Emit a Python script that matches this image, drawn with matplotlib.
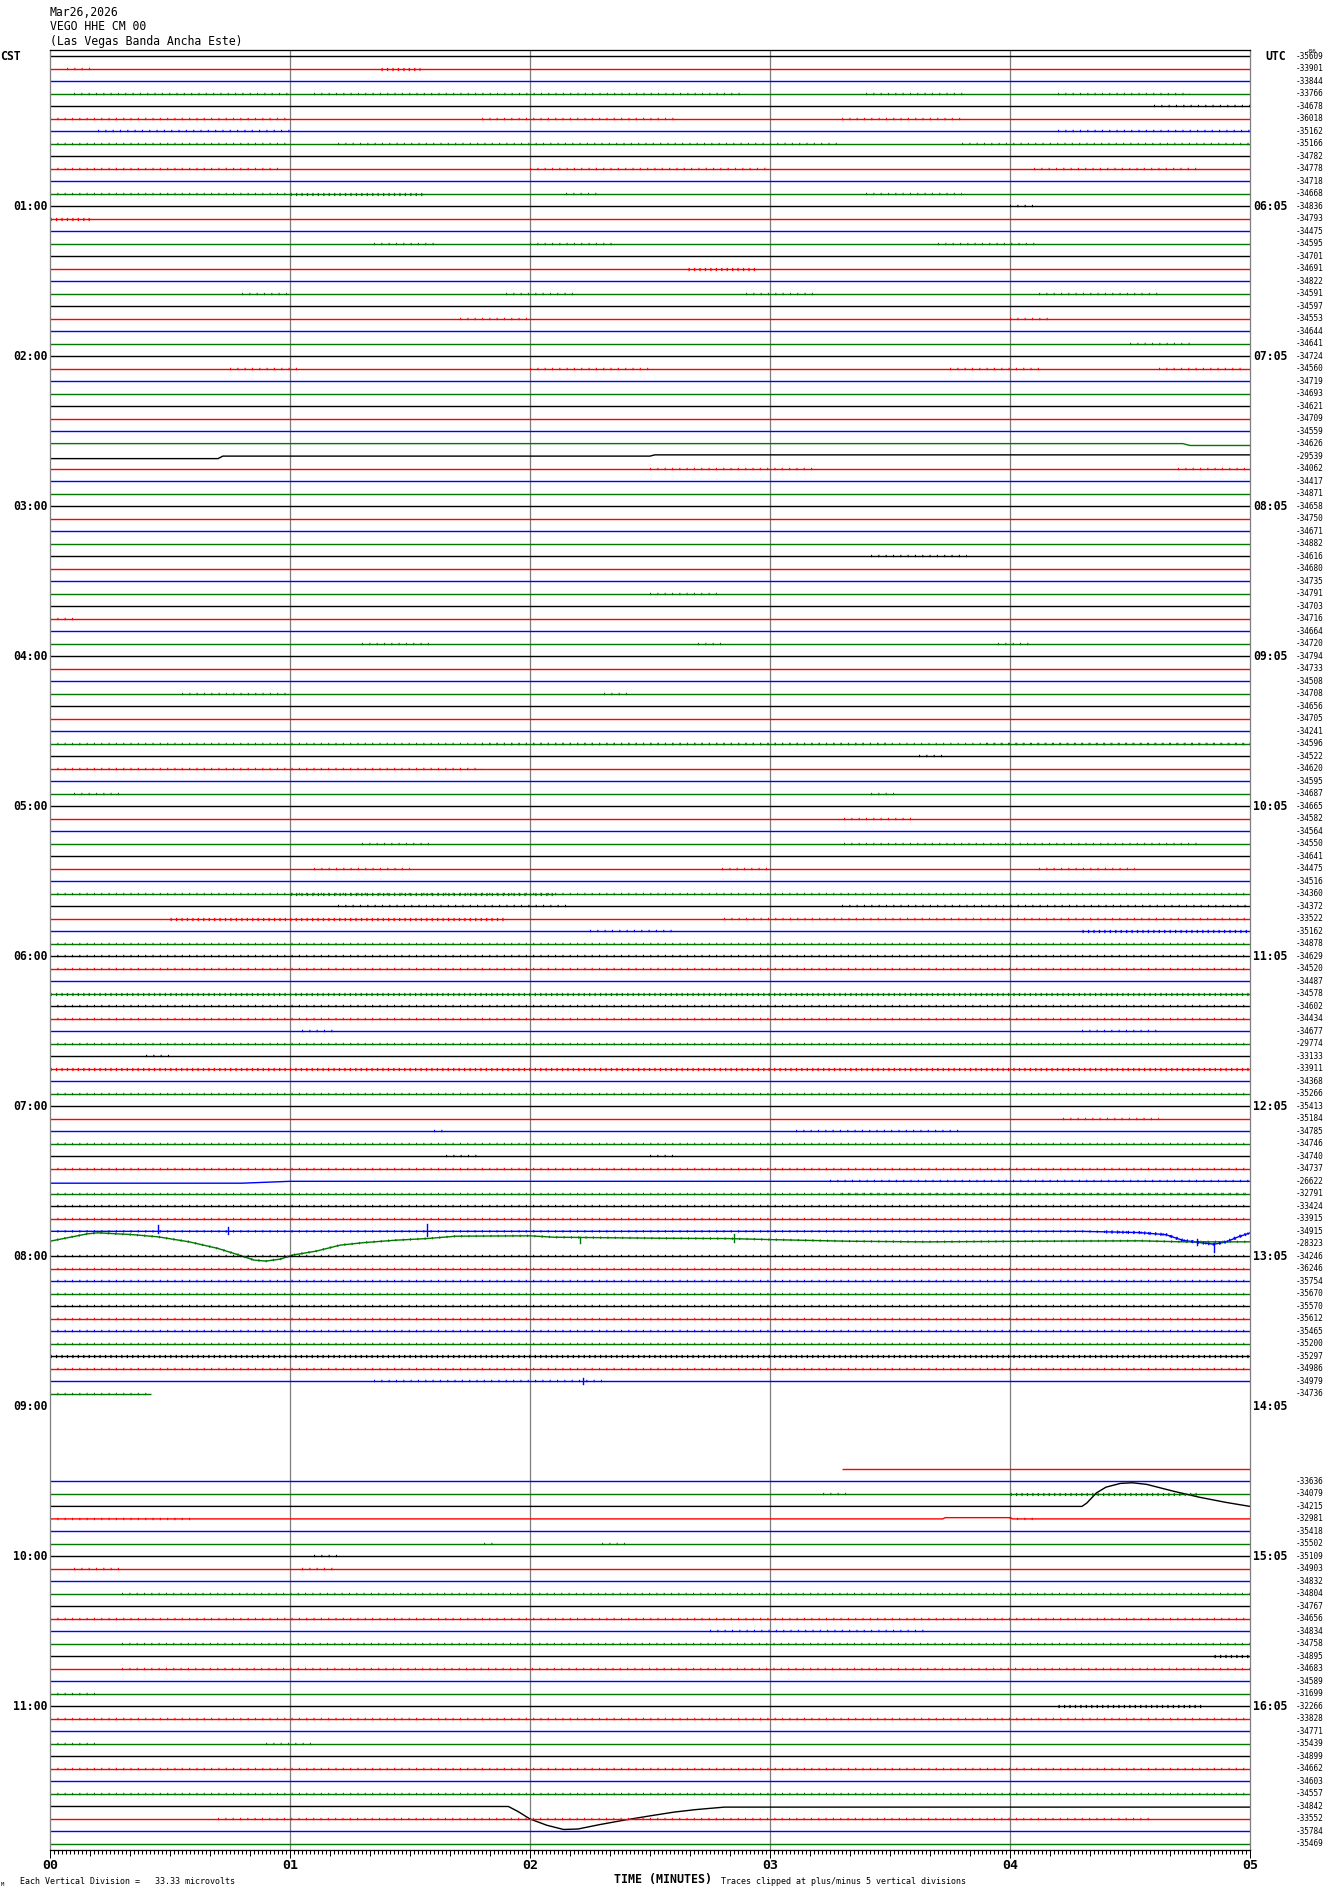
import matplotlib
matplotlib.use('Agg')
import matplotlib.pyplot as plt
import numpy as np

W, H, DPI = 1330, 1894, 100

n_rows = 144
trace_colors = ['#000000', '#ff0000', '#0000ff', '#007800']

left_labels = ['CST', '01:00', '02:00', '03:00', '04:00', '05:00', '06:00',
               '07:00', '08:00', '09:00', '10:00', '11:00']
right_labels = ['UTC', '06:05', '07:05', '08:05', '09:05', '10:05', '11:05',
                '12:05', '13:05', '14:05', '15:05', '16:05']
label_rows = [0, 12, 24, 36, 48, 60, 72, 84, 96, 108, 120, 132]

minute_labels = ['00', '01', '02', '03', '04', '05']

right_values = [
    -35609, -33901, -33844, -33766, -34678, -36018, -35162, -35166, -34782, -34778,
    -34718, -34668, -34836, -34793, -34475, -34595, -34701, -34691, -34822, -34591,
    -34597, -34553, -34644, -34641, -34724, -34560, -34719, -34693, -34621, -34709,
    -34559, -34626, -29539, -34062, -34417, -34871, -34658, -34750, -34671, -34882,
    -34616, -34680, -34735, -34791, -34703, -34716, -34664, -34720, -34794, -34733,
    -34508, -34708, -34656, -34705, -34241, -34596, -34522, -34620, -34595, -34687,
    -34665, -34582, -34564, -34550, -34641, -34475, -34516, -34360, -34372, -33522,
    -35162, -34878, -34629, -34520, -34487, -34578, -34602, -34434, -34677, -29774,
    -33133, -33911, -34368, -35266, -35413, -35184, -34785, -34746, -34740, -34737,
    -26622, -32791, -33424, -33915, -34915, -28323, -34246, -36246, -35754, -35670,
    -35570, -35612, -35465, -35200, -35297, -34986, -34979, -34736,
    None, None, None, None, None, None,
    -33636, -34079, -34215, -32981, -35418,
    -35502, -35109, -34903, -34832, -34804, -34767, -34656, -34834, -34758, -34895,
    -34683, -34589, -31699, -32266, -33828, -34771, -35439, -34899, -34662, -34603,
    -34557, -34842, -33552, -35784, -35469,
]

missing_rows = [108, 109, 110, 111, 112]
partial_rows = {107: (0.0, 0.42), 113: (3.3, 5.0)}

# rows with visible long-period motion: (minutes, offset in row spacings, + is up)
curves = {
    31: ([0, 4.72, 4.75, 5.0], [0, 0, -0.15, -0.15]),
    32: ([0, 0.7, 0.72, 2.5, 2.52, 5.0], [-0.2, -0.2, 0, 0, 0.1, 0.1]),
    90: ([0, 0.8, 1.0, 5.0], [-0.15, -0.15, 0, 0]),
    94: ([0, 4.3, 4.54, 4.65, 4.72, 4.79, 4.85, 4.9, 4.95, 5.0],
         [0, 0, -0.1, -0.27, -0.72, -0.9, -1.03, -0.85, -0.45, -0.13]),
    95: ([0, 0.156, 0.2, 0.34, 0.45, 0.58, 0.70, 0.78, 0.85, 0.90, 0.96, 1.01,
          1.11, 1.21, 1.31, 1.44, 1.57, 1.69, 2.0, 2.10, 2.53, 2.83, 3.0, 3.32,
          3.64, 4.13, 4.54, 4.72, 5.0],
         [0.21, 0.8, 0.88, 0.74, 0.56, 0.16, -0.37, -0.85, -1.3, -1.38, -1.22,
          -0.9, -0.58, -0.1, 0.1, 0.29, 0.42, 0.61, 0.64, 0.53, 0.45, 0.42, 0.34,
          0.21, 0.16, 0.21, 0.24, 0.16, 0.16]),
    116: ([0, 4.3, 4.32, 4.36, 4.40, 4.46, 4.51, 4.57, 4.68, 4.79, 4.90, 5.0],
          [0, 0, 0.27, 1.08, 1.54, 1.84, 1.89, 1.76, 1.22, 0.73, 0.32, 0]),
    117: ([0, 3.72, 3.73, 4.0, 4.01, 5.0], [0, 0, 0.1, 0.1, 0, 0]),
    140: ([0, 1.91, 1.95, 2.0, 2.07, 2.14, 2.2, 2.29, 2.39, 2.5, 2.6, 2.69, 2.81, 5.0],
          [0, 0, -0.4, -1.0, -1.5, -1.84, -1.8, -1.45, -1.1, -0.75, -0.45, -0.25,
           -0.05, -0.05]),
}

# bursts of small spikes: (row, start min, end min, level)
noise = [
    (1, 0.07, 0.18, 1), (1, 1.38, 1.54, 2),
    (3, 0.1, 1.0, 1), (3, 1.1, 2.9, 1), (3, 3.4, 3.82, 1), (3, 4.2, 4.75, 1),
    (4, 4.6, 5.0, 1),
    (5, 0.0, 1.0, 1), (5, 1.8, 2.6, 1), (5, 3.3, 3.8, 1),
    (6, 0.2, 1.0, 1), (6, 4.2, 5.0, 1),
    (7, 0.0, 1.0, 1), (7, 1.2, 3.3, 1), (7, 3.8, 5.0, 1),
    (9, 0.0, 0.95, 1), (9, 2.0, 3.0, 1), (9, 4.1, 4.8, 1),
    (11, 0.0, 1.0, 1), (11, 1.0, 1.55, 2), (11, 2.15, 2.3, 1), (11, 3.4, 3.8, 1),
    (12, 4.0, 4.1, 1), (13, 0.0, 0.17, 2),
    (15, 1.35, 1.6, 1), (15, 2.0, 2.35, 1), (15, 3.7, 4.12, 1),
    (17, 2.66, 2.95, 2),
    (19, 0.8, 1.0, 1), (19, 1.9, 2.2, 1), (19, 2.9, 3.2, 1), (19, 4.12, 4.62, 1),
    (21, 1.71, 2.0, 1), (21, 4.0, 4.18, 1), (23, 4.5, 4.75, 1),
    (25, 0.75, 1.05, 1), (25, 2.0, 2.5, 1), (25, 3.75, 4.12, 1), (25, 4.62, 4.97, 1),
    (33, 2.5, 3.2, 1), (33, 4.7, 5.0, 1), (40, 3.42, 3.82, 1), (43, 2.5, 2.8, 1),
    (45, 0.0, 0.1, 1), (47, 1.3, 1.6, 1), (47, 2.7, 2.8, 1), (47, 3.95, 4.1, 1),
    (51, 0.55, 1.0, 1), (51, 2.31, 2.41, 1),
    (55, 0.0, 5.0, 1), (55, 1.8, 3.5, 1), (55, 3.9, 5.0, 1),
    (56, 3.62, 3.72, 1), (57, 0.0, 1.8, 1), (59, 0.1, 0.3, 1), (59, 3.42, 3.52, 1),
    (61, 3.31, 3.6, 1), (63, 1.3, 1.6, 1), (63, 3.31, 4.8, 1),
    (65, 1.1, 1.5, 1), (65, 2.8, 3.0, 1), (65, 4.12, 4.52, 1),
    (67, 0.0, 5.0, 1), (67, 1.0, 2.1, 2), (68, 1.2, 2.15, 1), (68, 3.3, 5.0, 1),
    (69, 0.5, 1.9, 2), (69, 2.81, 5.0, 1), (70, 2.25, 2.6, 1), (70, 4.3, 5.0, 2),
    (71, 0.0, 5.0, 1), (72, 0.0, 5.0, 1), (73, 0.0, 5.0, 1), (75, 0.0, 5.0, 2),
    (76, 0.0, 5.0, 1), (77, 0.0, 5.0, 1), (78, 1.05, 1.2, 1), (78, 4.3, 4.62, 1),
    (79, 0.0, 5.0, 1), (80, 0.4, 0.5, 1), (81, 0.0, 5.0, 2), (83, 0.0, 5.0, 1),
    (85, 4.22, 4.62, 1), (86, 1.6, 1.65, 1), (86, 3.11, 3.8, 1), (87, 0.0, 5.0, 1),
    (88, 1.65, 1.8, 1), (88, 2.5, 2.6, 1), (89, 0.0, 5.0, 1), (90, 3.25, 5.0, 1),
    (91, 0.0, 5.0, 1), (91, 3.3, 5.0, 1), (92, 0.0, 5.0, 1), (93, 0.0, 5.0, 1),
    (94, 0.0, 5.0, 1), (94, 4.4, 5.0, 2), (95, 0.0, 5.0, 1), (96, 0.0, 5.0, 1),
    (97, 0.0, 5.0, 1), (98, 0.0, 5.0, 1), (99, 0.0, 5.0, 1), (100, 0.0, 5.0, 1),
    (101, 0.0, 5.0, 1), (102, 0.0, 5.0, 1), (103, 0.0, 5.0, 1), (104, 0.0, 5.0, 2),
    (105, 0.0, 5.0, 1), (106, 1.35, 2.3, 1), (107, 0.0, 0.42, 1),
    (115, 3.22, 3.33, 1), (115, 4.0, 4.79, 2), (117, 0.0, 0.6, 1), (117, 4.0, 4.1, 1),
    (119, 1.81, 1.86, 1), (119, 2.3, 2.42, 1), (120, 1.1, 1.2, 1),
    (121, 0.1, 0.3, 1), (121, 1.05, 1.2, 1), (123, 0.3, 5.0, 1), (125, 0.0, 5.0, 1),
    (126, 2.75, 3.65, 1), (127, 0.3, 5.0, 1), (128, 4.85, 5.0, 2), (129, 0.3, 5.0, 1),
    (131, 0.0, 0.2, 1), (132, 4.2, 4.8, 2), (133, 0.0, 5.0, 1),
    (135, 0.0, 0.2, 1), (135, 0.9, 1.1, 1), (137, 0.0, 5.0, 1), (139, 0.0, 5.0, 1),
    (141, 0.7, 4.6, 1),
]

# single larger spikes: (row, minute, up, down) in row spacings
spikes = [
    (94, 0.45, 0.5, 0.1), (94, 0.74, 0.35, 0.2), (94, 1.57, 0.55, 0.4),
    (94, 4.78, 0.3, 0.2), (94, 4.85, 0.1, 0.6),
    (95, 2.21, 0.0, 0.45), (95, 2.85, 0.35, 0.3),
    (106, 2.22, 0.25, 0.25),
]

MONO = 'DejaVu Sans Mono'
px = 0.72  # points per pixel at 100 dpi

fig = plt.figure(figsize=(W / DPI, H / DPI), dpi=DPI)
ax = fig.add_axes([50 / W, 1 - 1850 / H, 1200 / W, 1800 / H])
ax.set_xlim(0, 5)
ax.set_ylim(143.48, -0.48)

for m in [1, 2, 3, 4]:
    ax.axvline(m, color='#808080', lw=1.3 * px, zorder=1)


def curve_pts(r, t0, t1):
    t, off = curves[r]
    tt = [t0] + [v for v in t if t0 < v < t1] + [t1]
    return tt, r - np.interp(tt, t, off)


for r in range(n_rows):
    if r in missing_rows:
        continue
    c = trace_colors[r % 4]
    t0, t1 = partial_rows.get(r, (0.0, 5.0))
    if r in curves:
        tt, yy = curve_pts(r, t0, t1)
    else:
        tt, yy = [t0, t1], [r, r]
    ax.plot(tt, yy, color=c, lw=1.4 * px, zorder=2, solid_capstyle='butt')

for r, t0, t1, lvl in noise:
    c = trace_colors[r % 4]
    if r in curves:
        tt, yy = curve_pts(r, t0, t1)
    else:
        tt, yy = [t0, t1], [r, r]
    if lvl == 1:
        lw, ls = 2.4 * px, (0, (0.45, 2.6))
    else:
        lw, ls = 3.2 * px, (0, (0.4, 1.3))
    ax.plot(tt, yy, color=c, lw=lw, linestyle=ls, zorder=2)

for r, t, up, dn in spikes:
    c = trace_colors[r % 4]
    base = r - np.interp(t, *curves[r]) if r in curves else r
    ax.plot([t, t], [base - up, base + dn], color=c, lw=1.4 * px, zorder=3)

# labels on both sides
for r, lab in zip(label_rows, left_labels):
    x = -0.208 if lab == 'CST' else -0.154
    ax.text(x, r, lab, ha='left', va='center', family=MONO, fontweight='bold',
            fontsize=8.3, clip_on=False)
for r, lab in zip(label_rows, right_labels):
    x = 5.0625 if lab == 'UTC' else 5.0125
    ax.text(x, r, lab, ha='left', va='center', family=MONO, fontweight='bold',
            fontsize=8.3, clip_on=False)
for r, v in enumerate(right_values):
    if v is None:
        continue
    ax.text(5.19, r, str(v), ha='left', va='center', family=MONO,
            fontsize=5.6, clip_on=False)
ax.text(5.235, -0.36, '-86', ha='left', va='center', family=MONO,
        fontsize=4.3, clip_on=False)

# frame and time axis
for s in ['left', 'right']:
    ax.spines[s].set_color('#808080')
    ax.spines[s].set_linewidth(1.3 * px)
for s in ['top', 'bottom']:
    ax.spines[s].set_color('black')
    ax.spines[s].set_linewidth(1.3 * px)
ax.set_yticks([])
ax.set_xticks(range(6))
ax.set_xticklabels(minute_labels, family=MONO, fontweight='bold', fontsize=9.5)
ax.set_xticks(np.arange(0, 5.0001, 1 / 60), minor=True)
ax.tick_params(axis='x', which='major', direction='out', length=8 * px,
               width=1.0 * px, pad=1)
ax.tick_params(axis='x', which='minor', direction='out', length=3.5 * px,
               width=1.0 * px)
ten_sec = np.arange(0, 5.0001, 1 / 6)
ax.vlines(ten_sec, 0, -5.5 / 1800, transform=ax.get_xaxis_transform(),
          color='black', lw=1.0 * px, clip_on=False)

# header and footer text
fig.text(50 / W, 1 - 12 / H, 'Mar26,2026', family=MONO, fontsize=8.3, va='center')
fig.text(50 / W, 1 - 27 / H, 'VEGO HHE CM 00', family=MONO, fontsize=8.3, va='center')
fig.text(50 / W, 1 - 42 / H, '(Las Vegas Banda Ancha Este)', family=MONO,
         fontsize=8.3, va='center')
fig.text(1 / W, 1 - 1884 / H, 'M', family=MONO, fontsize=4, va='center')
fig.text(20 / W, 1 - 1881 / H, 'Each Vertical Division =   33.33 microvolts',
         family=MONO, fontsize=6, va='center')
fig.text(614 / W, 1 - 1879 / H, 'TIME (MINUTES)', family=MONO, fontweight='bold',
         fontsize=8.4, va='center')
fig.text(721 / W, 1 - 1881 / H, 'Traces clipped at plus/minus 5 vertical divisions',
         family=MONO, fontsize=6, va='center')

fig.savefig('out.png', dpi=DPI)
